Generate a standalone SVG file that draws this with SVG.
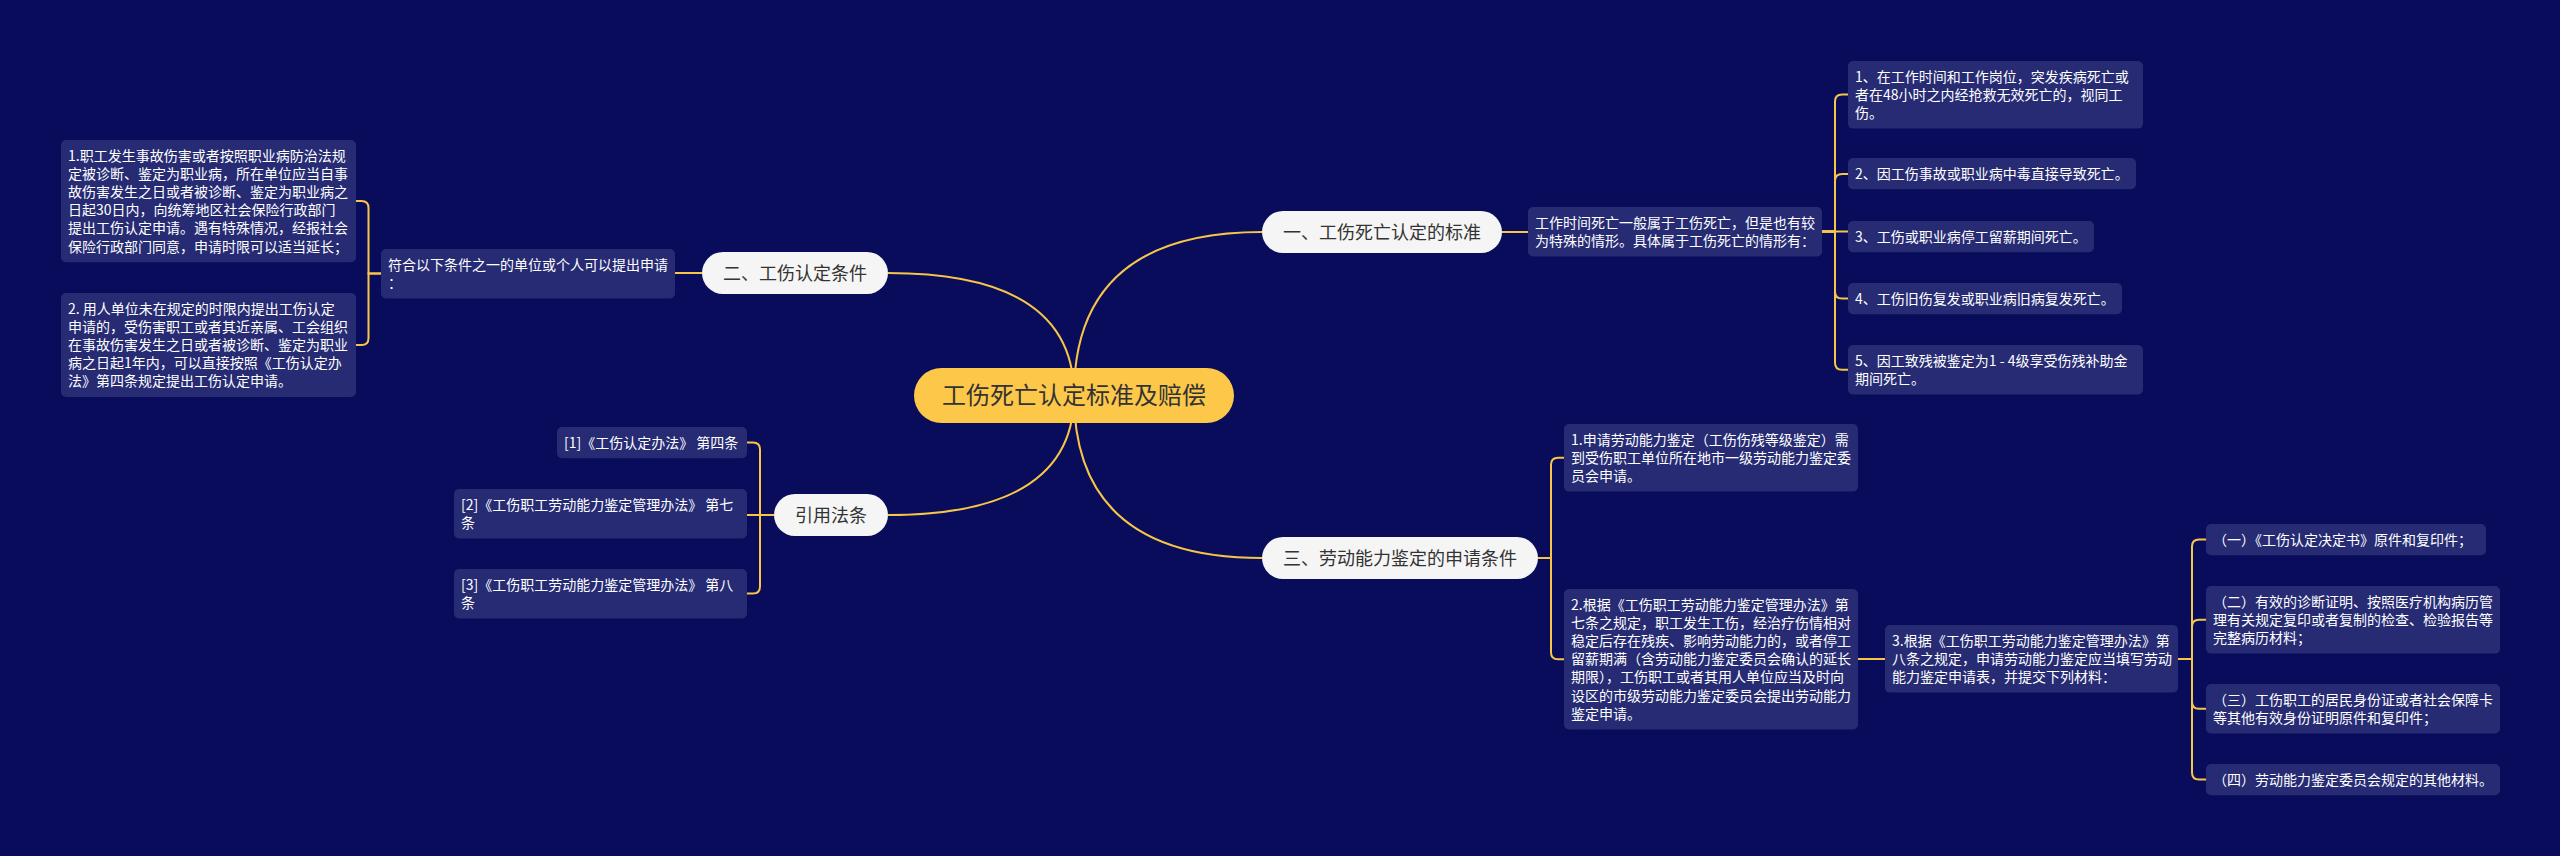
<svg xmlns="http://www.w3.org/2000/svg" width="2560" height="856" viewBox="0 0 2560 856">
<style>
.bg{fill:#080C5A}
.box{fill:#262B74}
.br{fill:#F5F5F5}
.root{fill:#FDC84A}
.t{font-family:"Noto Sans CJK SC","Liberation Sans",sans-serif;font-size:14px;fill:#FFFFFF}
.bt{font-family:"Noto Sans CJK SC","Liberation Sans",sans-serif;font-size:18px;fill:#333333;text-anchor:middle}
.rt{font-family:"Noto Sans CJK SC","Liberation Sans",sans-serif;font-size:24px;fill:#333333;text-anchor:middle}
.ln{fill:none;stroke:#F7C548;stroke-width:2}
</style>
<rect class="bg" x="0" y="0" width="2560" height="856"/>
<g id="connectors">
<path class="ln" d="M1074 395 Q1074 232 1262 232"/>
<path class="ln" d="M1074 395 Q1074 273 888 273"/>
<path class="ln" d="M1074 395 Q1074 515 888 515"/>
<path class="ln" d="M1074 395 Q1074 558 1262 558"/>
<path class="ln" d="M1502 232 H1528"/>
<path class="ln" d="M1822 231.5 H1835 V101.5 Q1835 94.5 1842 94.5 H1848"/>
<path class="ln" d="M1822 231.5 H1835 V181 Q1835 174 1842 174 H1848"/>
<path class="ln" d="M1822 231.5 H1848"/>
<path class="ln" d="M1822 231.5 H1835 V291.6 Q1835 298.6 1842 298.6 H1848"/>
<path class="ln" d="M1822 231.5 H1835 V362.7 Q1835 369.7 1842 369.7 H1848"/>
<path class="ln" d="M702 273 H675"/>
<path class="ln" d="M381 273.5 H368.5 V208.1 Q368.5 201.1 361.5 201.1 H356"/>
<path class="ln" d="M381 273.5 H368.5 V338 Q368.5 345 361.5 345 H356"/>
<path class="ln" d="M774 515 H760 V449.5 Q760 442.5 753 442.5 H747"/>
<path class="ln" d="M774 515 H747"/>
<path class="ln" d="M774 515 H760 V586.5 Q760 593.5 753 593.5 H747"/>
<path class="ln" d="M1538 558 H1551 V464.8 Q1551 457.8 1558 457.8 H1564"/>
<path class="ln" d="M1538 558 H1551 V652.2 Q1551 659.2 1558 659.2 H1564"/>
<path class="ln" d="M1858 659 H1885"/>
<path class="ln" d="M2178 659 H2192 V546.6 Q2192 539.6 2199 539.6 H2206"/>
<path class="ln" d="M2178 659 H2192 V626.8 Q2192 619.8 2199 619.8 H2206"/>
<path class="ln" d="M2178 659 H2192 V701.7 Q2192 708.7 2199 708.7 H2206"/>
<path class="ln" d="M2178 659 H2192 V772.6 Q2192 779.6 2199 779.6 H2206"/>
</g>
<g id="root">
<rect class="root" x="914" y="368" width="320" height="55" rx="27.5"/>
<text class="rt" x="1074" y="403.5">工伤死亡认定标准及赔偿</text>
</g>
<g id="b1">
<rect class="br" x="1262" y="211" width="240" height="42" rx="21"/>
<text class="bt" x="1382" y="238.5">一、工伤死亡认定的标准</text>
</g>
<g id="b2">
<rect class="br" x="702" y="252" width="186" height="42" rx="21"/>
<text class="bt" x="795" y="279.5">二、工伤认定条件</text>
</g>
<g id="b3">
<rect class="br" x="1262" y="537" width="276" height="42" rx="21"/>
<text class="bt" x="1400" y="564.5">三、劳动能力鉴定的申请条件</text>
</g>
<g id="b4">
<rect class="br" x="774" y="494" width="114" height="42" rx="21"/>
<text class="bt" x="831" y="521.5">引用法条</text>
</g>
<g id="b1-desc">
<rect class="box" x="1528" y="207" width="294" height="49.4" rx="5"/>
<text class="t"><tspan x="1535" y="227.6">工作时间死亡一般属于工伤死亡，但是也有较</tspan><tspan x="1535" y="245.8">为特殊的情形。具体属于工伤死亡的情形有：</tspan></text>
</g>
<g id="b1-i1">
<rect class="box" x="1848" y="61" width="295" height="67.6" rx="5"/>
<text class="t"><tspan x="1855" y="81.6">1、在工作时间和工作岗位，突发疾病死亡或</tspan><tspan x="1855" y="99.8">者在48小时之内经抢救无效死亡的，视同工</tspan><tspan x="1855" y="118">伤。</tspan></text>
</g>
<g id="b1-i2">
<rect class="box" x="1848" y="158" width="288" height="31.2" rx="5"/>
<text class="t" x="1855" y="178.6">2、因工伤事故或职业病中毒直接导致死亡。</text>
</g>
<g id="b1-i3">
<rect class="box" x="1848" y="221" width="246" height="31.2" rx="5"/>
<text class="t" x="1855" y="241.6">3、工伤或职业病停工留薪期间死亡。</text>
</g>
<g id="b1-i4">
<rect class="box" x="1848" y="283" width="274" height="31.2" rx="5"/>
<text class="t" x="1855" y="303.6">4、工伤旧伤复发或职业病旧病复发死亡。</text>
</g>
<g id="b1-i5">
<rect class="box" x="1848" y="345" width="295" height="49.4" rx="5"/>
<text class="t"><tspan x="1855" y="365.6">5、因工致残被鉴定为1 - 4级享受伤残补助金</tspan><tspan x="1855" y="383.8">期间死亡。</tspan></text>
</g>
<g id="b2-desc">
<rect class="box" x="381" y="249" width="294" height="49.4" rx="5"/>
<text class="t"><tspan x="388" y="269.6">符合以下条件之一的单位或个人可以提出申请</tspan><tspan x="388" y="287.8">：</tspan></text>
</g>
<g id="b2-i1">
<rect class="box" x="61" y="140" width="295" height="122.2" rx="5"/>
<text class="t"><tspan x="68" y="160.6">1.职工发生事故伤害或者按照职业病防治法规</tspan><tspan x="68" y="178.8">定被诊断、鉴定为职业病，所在单位应当自事</tspan><tspan x="68" y="197">故伤害发生之日或者被诊断、鉴定为职业病之</tspan><tspan x="68" y="215.2">日起30日内，向统筹地区社会保险行政部门</tspan><tspan x="68" y="233.4">提出工伤认定申请。遇有特殊情况，经报社会</tspan><tspan x="68" y="251.6">保险行政部门同意，申请时限可以适当延长；</tspan></text>
</g>
<g id="b2-i2">
<rect class="box" x="61" y="293" width="295" height="104" rx="5"/>
<text class="t"><tspan x="68" y="313.6">2. 用人单位未在规定的时限内提出工伤认定</tspan><tspan x="68" y="331.8">申请的，受伤害职工或者其近亲属、工会组织</tspan><tspan x="68" y="350">在事故伤害发生之日或者被诊断、鉴定为职业</tspan><tspan x="68" y="368.2">病之日起1年内，可以直接按照《工伤认定办</tspan><tspan x="68" y="386.4">法》第四条规定提出工伤认定申请。</tspan></text>
</g>
<g id="b4-i1">
<rect class="box" x="557" y="427" width="190" height="31.2" rx="5"/>
<text class="t" x="564" y="447.6">[1]《工伤认定办法》 第四条</text>
</g>
<g id="b4-i2">
<rect class="box" x="454" y="489" width="293" height="49.4" rx="5"/>
<text class="t"><tspan x="461" y="509.6">[2]《工伤职工劳动能力鉴定管理办法》 第七</tspan><tspan x="461" y="527.8">条</tspan></text>
</g>
<g id="b4-i3">
<rect class="box" x="454" y="569" width="293" height="49.4" rx="5"/>
<text class="t"><tspan x="461" y="589.6">[3]《工伤职工劳动能力鉴定管理办法》 第八</tspan><tspan x="461" y="607.8">条</tspan></text>
</g>
<g id="b3-i1">
<rect class="box" x="1564" y="424" width="294" height="67.6" rx="5"/>
<text class="t"><tspan x="1571" y="444.6">1.申请劳动能力鉴定（工伤伤残等级鉴定）需</tspan><tspan x="1571" y="462.8">到受伤职工单位所在地市一级劳动能力鉴定委</tspan><tspan x="1571" y="481">员会申请。</tspan></text>
</g>
<g id="b3-i2">
<rect class="box" x="1564" y="589" width="294" height="140.4" rx="5"/>
<text class="t"><tspan x="1571" y="609.6">2.根据《工伤职工劳动能力鉴定管理办法》第</tspan><tspan x="1571" y="627.8">七条之规定，职工发生工伤，经治疗伤情相对</tspan><tspan x="1571" y="646">稳定后存在残疾、影响劳动能力的，或者停工</tspan><tspan x="1571" y="664.2">留薪期满（含劳动能力鉴定委员会确认的延长</tspan><tspan x="1571" y="682.4">期限），工伤职工或者其用人单位应当及时向</tspan><tspan x="1571" y="700.6">设区的市级劳动能力鉴定委员会提出劳动能力</tspan><tspan x="1571" y="718.8">鉴定申请。</tspan></text>
</g>
<g id="b3-i3">
<rect class="box" x="1885" y="625" width="293" height="67.6" rx="5"/>
<text class="t"><tspan x="1892" y="645.6">3.根据《工伤职工劳动能力鉴定管理办法》第</tspan><tspan x="1892" y="663.8">八条之规定，申请劳动能力鉴定应当填写劳动</tspan><tspan x="1892" y="682">能力鉴定申请表，并提交下列材料：</tspan></text>
</g>
<g id="m1">
<rect class="box" x="2206" y="524" width="280" height="31.2" rx="5"/>
<text class="t" x="2213" y="544.6">（一）《工伤认定决定书》原件和复印件；</text>
</g>
<g id="m2">
<rect class="box" x="2206" y="586" width="294" height="67.6" rx="5"/>
<text class="t"><tspan x="2213" y="606.6">（二）有效的诊断证明、按照医疗机构病历管</tspan><tspan x="2213" y="624.8">理有关规定复印或者复制的检查、检验报告等</tspan><tspan x="2213" y="643">完整病历材料；</tspan></text>
</g>
<g id="m3">
<rect class="box" x="2206" y="684" width="294" height="49.4" rx="5"/>
<text class="t"><tspan x="2213" y="704.6">（三）工伤职工的居民身份证或者社会保障卡</tspan><tspan x="2213" y="722.8">等其他有效身份证明原件和复印件；</tspan></text>
</g>
<g id="m4">
<rect class="box" x="2206" y="764" width="294" height="31.2" rx="5"/>
<text class="t" x="2213" y="784.6">（四）劳动能力鉴定委员会规定的其他材料。</text>
</g>
</svg>
